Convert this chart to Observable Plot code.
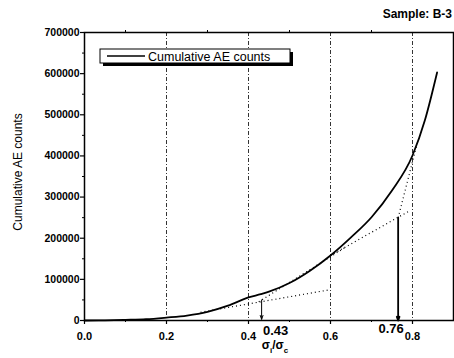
<!DOCTYPE html>
<html><head>
<meta charset="utf-8">
<script src="https://cdn.jsdelivr.net/npm/d3@7"></script>
<script src="https://cdn.jsdelivr.net/npm/@observablehq/plot@0.6"></script>
<style>
body{margin:0;background:#fff;}
#chart svg{display:block;}
</style>
</head><body>
<div id="chart"></div>
<script>
// Stress ratio (sigma_i / sigma_c) and cumulative AE counts
const ratio  = [0, 0.05, 0.1, 0.15, 0.2, 0.25, 0.3, 0.35, 0.4, 0.43, 0.45, 0.5, 0.55, 0.6, 0.65, 0.7, 0.75, 0.8, 0.83, 0.86];
const counts = [0, 500, 1500, 3000, 7000, 12000, 21000, 36000, 56000, 64000, 70000, 91000, 121000, 158000, 202000, 251000, 316000, 401000, 486000, 603000];

// Dotted tangent lines (start / end)
const tanX1 = [0.283, 0.425, 0.6, 0.765];
const tanY1 = [20000, 45500, 158000, 250000];
const tanX2 = [0.6, 0.64, 0.79, 0.81];
const tanY2 = [75000, 180000, 265000, 425000];

// Onset arrows and their labels
const onsetX = [0.432, 0.765];
const onsetTop = [50000, 250000];
const onsetBottom = [3000, 0];
const onsetLabels = ["0.43", "0.76"];

const xTicks = [0, 0.2, 0.4, 0.6, 0.8];
const xMinor = [0.1, 0.3, 0.5, 0.7];
const yTicks = [0, 100000, 200000, 300000, 400000, 500000, 600000, 700000];
const yMinor = [50000, 150000, 250000, 350000, 450000, 550000, 650000];
const gridX = [0.2, 0.4, 0.6, 0.8];

const curve = ratio.map((r, i) => ({r, c: counts[i]}));
const tangents = tanX1.map((x, i) => ({x1: x, y1: tanY1[i], x2: tanX2[i], y2: tanY2[i]}));
const onsets = onsetX.map((x, i) => ({x, top: onsetTop[i], bottom: onsetBottom[i], label: onsetLabels[i], w: i === 0 ? 1 : 1.8}));

const font = "'Liberation Sans', Arial, sans-serif";

const chart = Plot.plot({
  width: 454,
  height: 358,
  marginLeft: 84,
  marginRight: 1,
  marginTop: 32,
  marginBottom: 38,
  style: {fontFamily: font, fontSize: "11px", background: "#fff", color: "#000"},
  x: {domain: [0, 0.9]},
  y: {domain: [0, 700000]},
  marks: [
    Plot.ruleX(gridX, {stroke: "#000", strokeWidth: 0.8, strokeDasharray: "4,2,1,2"}),
    Plot.link(tangents, {x1: "x1", y1: "y1", x2: "x2", y2: "y2", stroke: "#000", strokeWidth: 1.2, strokeDasharray: "1,3"}),
    Plot.line(curve, {x: "r", y: "c", curve: "monotone-x", stroke: "#000", strokeWidth: 1.8}),
    Plot.arrow(onsets, {x1: "x", y1: "top", x2: "x", y2: "bottom", stroke: "#000", strokeWidth: "w", headLength: 6, headAngle: 40}),
    Plot.text(onsets.slice(0, 1), {x: "x", y: 0, text: "label", dx: 14, dy: 10, fontSize: 13, fontWeight: "bold", fill: "#000"}),
    Plot.text(onsets.slice(1), {x: "x", y: 0, text: "label", dx: -7, dy: 8, fontSize: 13, fontWeight: "bold", fill: "#000"}),
    Plot.axisY(yTicks, {tickSize: 4, tickPadding: 1, tickFormat: d => String(d), fontWeight: "bold", fontSize: 10.5, label: null, strokeWidth: 1.2}),
    Plot.axisY(yMinor, {tickSize: 2, tickFormat: () => "", label: null}),
    Plot.axisX(xTicks, {tickSize: 4, tickPadding: 8, tickFormat: d3.format(".1f"), fontWeight: "bold", fontSize: 11, label: null, strokeWidth: 1.2}),
    Plot.axisX(xMinor, {tickSize: 2, tickFormat: () => "", label: null}),
    Plot.axisX(xMinor, {anchor: "top", tickSize: 3, tickFormat: () => "", label: null}),
    Plot.frame({stroke: "#000", strokeWidth: 1.5})
  ]
});

document.getElementById("chart").appendChild(chart);

const svg = d3.select(chart);

// Title
svg.append("text").attr("x", 452).attr("y", 18).attr("text-anchor", "end")
  .attr("font-family", font).attr("font-size", 12).attr("font-weight", "bold")
  .text("Sample: B-3");

// Y label
svg.append("text").attr("transform", "translate(22,172) rotate(-90)").attr("text-anchor", "middle")
  .attr("font-family", font).attr("font-size", 12)
  .text("Cumulative AE counts");

// X label sigma_i / sigma_c
const xl = svg.append("text").attr("x", 275).attr("y", 349).attr("text-anchor", "middle")
  .attr("font-family", font).attr("font-size", 12).attr("font-weight", "bold");
xl.append("tspan").text("σ");
xl.append("tspan").attr("dy", 4).attr("font-size", 8).text("i");
xl.append("tspan").attr("dy", -4).text("/σ");
xl.append("tspan").attr("dy", 4).attr("font-size", 8).text("c");

// Legend
const lg = svg.append("g");
lg.append("rect").attr("x", 103).attr("y", 52).attr("width", 190).attr("height", 14).attr("fill", "#000");
lg.append("rect").attr("x", 100).attr("y", 49).attr("width", 190).attr("height", 14).attr("fill", "#fff").attr("stroke", "#000").attr("stroke-width", 1);
lg.append("line").attr("x1", 107).attr("x2", 145).attr("y1", 56).attr("y2", 56).attr("stroke", "#000").attr("stroke-width", 1.3);
lg.append("text").attr("x", 148).attr("y", 60.5).attr("text-anchor", "start")
  .attr("font-family", font).attr("font-size", 12.5)
  .text("Cumulative AE counts");
</script>
</body></html>
